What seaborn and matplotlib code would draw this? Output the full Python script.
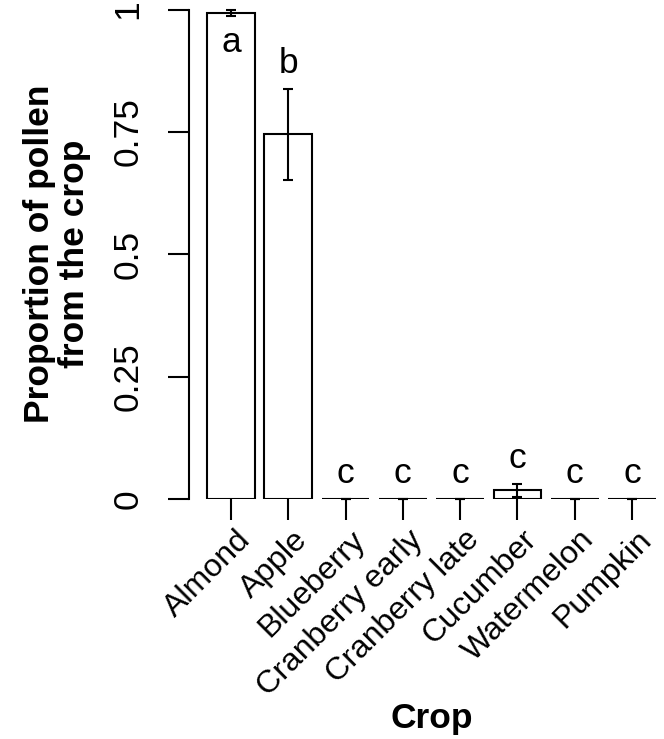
import matplotlib
matplotlib.use("Agg")
import matplotlib.pyplot as plt
import matplotlib.transforms as mtransforms
import seaborn as sns

crops = ["Almond", "Apple", "Blueberry", "Cranberry early", "Cranberry late",
         "Cucumber", "Watermelon", "Pumpkin"]
proportion = [0.993, 0.745, 0.0, 0.0, 0.0, 0.018, 0.0, 0.0]
std_err = [0.006, 0.093, 0.0, 0.0, 0.0, 0.013, 0.0, 0.0]
letters = ["a", "b", "c", "c", "c", "c", "c", "c"]
y_ticks = [0, 0.25, 0.5, 0.75, 1]
y_tick_labels = ["0", "0.25", "0.5", "0.75", "1"]

sns.set_style("ticks")
plt.rcParams["font.family"] = ["Liberation Sans", "DejaVu Sans"]
# plain black like base R, not seaborn's dark grey
plt.rcParams.update({"text.color": "black", "axes.edgecolor": "black",
                     "xtick.color": "black", "ytick.color": "black",
                     "axes.labelcolor": "black"})

fs = 25.5

fig = plt.figure(figsize=(6.64, 7.39), dpi=100)
# R-like plot region, right edge runs a bit past the figure
ax = fig.add_axes([189 / 664, 240 / 739, 486 / 664, 489.5 / 739])

sns.barplot(x=crops, y=proportion, color="white", saturation=1,
            edgecolor="black", linewidth=1.5, width=0.833,
            errorbar=None, ax=ax)

ax.errorbar(x=range(len(crops)), y=proportion, yerr=std_err, fmt="none",
            ecolor="black", elinewidth=1.5, capsize=3.5, capthick=1.5,
            clip_on=False)

# significance letters: above the error bar, or inside if no room
for i, (p, se, let) in enumerate(zip(proportion, std_err, letters)):
    upper = p + se
    y = p - 0.079 if upper > 0.95 else upper + 0.032
    ax.text(i, y, let, ha="center", va="baseline", fontsize=fs, clip_on=False)

ax.set_xlim(-0.733, 7.75)
ax.set_ylim(0, 1)
ax.set_yticks(y_ticks, y_tick_labels)
ax.tick_params(axis="y", labelrotation=90, length=15, width=1.5,
               labelsize=fs, pad=17)
for lab in ax.get_yticklabels():
    lab.set_va("center")

# rotated crop names, nudged right like the R text(srt=45) labels
ax.tick_params(axis="x", length=15, width=1.5, labelsize=23, pad=11)
offset = mtransforms.ScaledTranslation(0.15, 0, fig.dpi_scale_trans)
for lab in ax.get_xticklabels():
    lab.set_rotation(45)
    lab.set_ha("right")
    lab.set_va("center")
    lab.set_rotation_mode("anchor")
    lab.set_transform(lab.get_transform() + offset)

sns.despine(ax=ax, bottom=True)
ax.spines["left"].set_linewidth(1.5)
ax.set_xlabel("")
ax.set_ylabel("")

fig.text(57 / 664, 1 - 254 / 739, "Proportion of pollen\nfrom the crop",
         rotation=90, ha="center", va="center", fontsize=fs,
         fontweight="bold", linespacing=1.05)
fig.text(432 / 664, 1 - 728 / 739, "Crop", ha="center", va="baseline",
         fontsize=fs, fontweight="bold")

fig.savefig("out.png", dpi=100)
